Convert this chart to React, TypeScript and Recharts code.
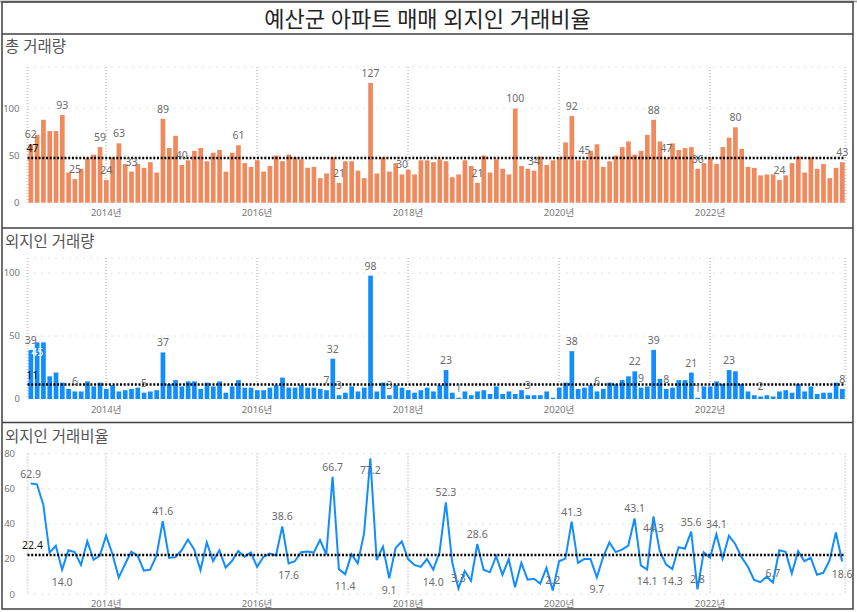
import React from "react";
import { ComposedChart, Bar, Line, XAxis, YAxis, CartesianGrid, ReferenceLine, LabelList } from "recharts";

// Monthly series, Jan 2013 .. Oct 2023
const START_YEAR = 2013;

const TOTAL = [
  62, 72, 88, 76, 76, 93, 32, 25, 36, 47, 51, 59,
  24, 48, 63, 41, 33, 41, 37, 43, 32, 89, 58, 71,
  40, 45, 55, 58, 44, 53, 56, 33, 53, 61, 42, 38,
  45, 33, 39, 50, 44, 51, 48, 46, 37, 38, 26, 31,
  48, 21, 44, 44, 34, 26, 127, 31, 48, 33, 42, 30,
  35, 30, 45, 45, 43, 46, 44, 27, 30, 45, 39, 21,
  50, 32, 46, 36, 30, 100, 39, 36, 34, 49, 40, 45,
  48, 64, 92, 45, 45, 55, 62, 38, 44, 50, 59, 65,
  51, 55, 72, 88, 65, 47, 63, 56, 58, 59, 36, 42,
  48, 41, 59, 69, 80, 57, 38, 37, 29, 30, 30, 24,
  29, 42, 49, 32, 48, 36, 41, 26, 37, 43,
];

const FOREIGN = [
  39, 45, 45, 18, 21, 13, 8, 6, 6, 14, 10, 13,
  8, 11, 6, 7, 8, 9, 5, 6, 7, 37, 12, 15,
  10, 14, 14, 8, 13, 10, 14, 5, 10, 15, 9, 9,
  7, 7, 9, 11, 17, 9, 9, 11, 9, 9, 8, 7,
  32, 3, 5, 10, 6, 9, 98, 6, 13, 3, 11, 9,
  7, 5, 7, 9, 6, 11, 23, 5, 1, 6, 3, 6,
  7, 4, 10, 4, 6, 4, 7, 3, 3, 3, 6, 1,
  9, 13, 38, 8, 9, 11, 6, 8, 13, 12, 15, 18,
  22, 9, 10, 39, 16, 8, 9, 15, 15, 21, 1, 10,
  10, 14, 12, 23, 22, 12, 6, 3, 2, 3, 2, 6,
  7, 5, 12, 6, 10, 4, 5, 5, 13, 8,
];

const RATE = [
  62.9, 62.5, 51.1, 23.7, 27.6, 14.0, 25.0, 24.0, 16.7, 30.2, 19.6, 22.0,
  33.3, 22.9, 9.5, 17.1, 24.2, 22.0, 13.5, 14.0, 21.9, 41.6, 20.7, 21.1,
  25.0, 31.1, 25.5, 13.8, 29.5, 18.9, 25.0, 15.2, 18.9, 24.6, 21.4, 23.7,
  15.6, 21.2, 23.1, 22.0, 38.6, 17.6, 18.8, 23.9, 24.3, 23.7, 30.8, 22.6,
  66.7, 14.3, 11.4, 22.7, 17.6, 34.6, 77.2, 19.4, 27.1, 9.1, 26.2, 30.0,
  20.0, 16.7, 15.6, 20.0, 14.0, 23.9, 52.3, 18.5, 3.3, 13.3, 7.7, 28.6,
  14.0, 12.5, 21.7, 11.1, 20.0, 4.0, 17.9, 8.3, 8.8, 6.1, 15.0, 2.2,
  18.8, 20.3, 41.3, 17.8, 20.0, 20.0, 9.7, 21.1, 29.5, 24.0, 25.4, 27.7,
  43.1, 16.4, 14.1, 44.3, 24.6, 17.0, 14.3, 26.8, 25.9, 35.6, 2.8, 23.8,
  20.8, 34.1, 20.3, 33.3, 28.6, 21.1, 15.8, 8.1, 6.9, 10.0, 6.7, 25.0,
  24.1, 11.9, 24.5, 18.8, 20.8, 11.1, 12.2, 19.2, 35.1, 18.6,
];

const TOTAL_AVG = 47.4;
const FOREIGN_AVG = 11.46;
const RATE_AVG = 22.4;

const YEAR_TICKS = [12, 36, 60, 84, 108];
const YEAR_LABELS = ["2014년", "2016년", "2018년", "2020년", "2022년"];

// which months carry a data label
const TOTAL_LABELED = [0, 5, 7, 11, 12, 14, 16, 21, 24, 33, 49, 54, 59, 71, 77, 80, 86, 88, 99, 101, 106, 112, 119, 129];
const FOREIGN_LABELED = [0, 7, 18, 21, 47, 48, 49, 54, 57, 66, 68, 79, 86, 90, 96, 97, 99, 101, 105, 106, 111, 116, 129];
const FOREIGN_INSIDE = [1];
const RATE_ABOVE = [0, 21, 40, 48, 66, 68, 71, 83, 86, 96, 105, 106, 109, 118];
const RATE_BELOW = [5, 41, 50, 54, 57, 64, 90, 98, 99, 102, 129];

const data = TOTAL.map((t, i) => ({
  idx: i,
  month: `${START_YEAR + Math.floor(i / 12)}-${String((i % 12) + 1).padStart(2, "0")}`,
  total: t,
  foreign: FOREIGN[i],
  rate: RATE[i],
}));

const FONT = "'Noto Sans', 'Noto Sans CJK KR', sans-serif";
const ORANGE = "#F08A5D";
const BLUE = "#118DFF";
const LABEL_GRAY = "#6b6b6b";
const W = 857;

const tickStyle = { fontSize: 9.5, fill: "#777", fontFamily: FONT };
const labelText = { fontSize: 10.5, fontFamily: FONT };

function barLabel(shown: number[], inside: number[] = []) {
  return (p: any) => {
    const { x, y, width, index, value } = p;
    const cx = Number(x) + Number(width) / 2;
    if (inside.includes(index)) {
      return (
        <text x={cx} y={Number(y) + 14} textAnchor="middle" fill="#fff" {...labelText}>
          {value}
        </text>
      );
    }
    if (!shown.includes(index)) return null;
    return (
      <text x={cx} y={Number(y) - 6} textAnchor="middle" fill={LABEL_GRAY} {...labelText}>
        {value}
      </text>
    );
  };
}

function lineLabel(p: any) {
  const { x, y, index, value } = p;
  let dy = 0;
  if (RATE_ABOVE.includes(index)) dy = -6;
  else if (RATE_BELOW.includes(index)) dy = 16;
  else return null;
  return (
    <text x={x} y={Number(y) + dy} textAnchor="middle" fill={LABEL_GRAY} {...labelText}>
      {Number(value).toFixed(1)}
    </text>
  );
}

function avgLabel(text: string) {
  return (p: any) => {
    const vb = p.viewBox || {};
    return (
      <text x={vb.x + 5} y={vb.y - 6} textAnchor="middle" fill="#111" {...labelText}>
        {text}
      </text>
    );
  };
}

function yearTick(v: number) {
  return YEAR_LABELS[YEAR_TICKS.indexOf(v)] ?? "";
}

const xAxisProps = {
  type: "number" as const,
  dataKey: "idx",
  domain: [-0.5, 129.5],
  ticks: YEAR_TICKS,
  tickFormatter: yearTick,
  tickLine: false,
  axisLine: false,
  interval: 0 as const,
  height: 15,
  tick: tickStyle,
};

function PanelTitle({ top, text }: { top: number; text: string }) {
  return (
    <div
      style={{
        position: "absolute",
        left: 5,
        top,
        fontFamily: FONT,
        fontSize: 15.5,
        lineHeight: "18px",
        color: "#555",
        whiteSpace: "nowrap",
      }}
    >
      {text}
    </div>
  );
}

export default function App() {
  return (
    <div style={{ position: "absolute", left: 0, top: 0, width: W, height: 612, background: "#fff", overflow: "hidden" }}>
      <div
        style={{
          position: "absolute",
          left: 0,
          top: 2,
          width: W - 2,
          height: 32,
          textAlign: "center",
          fontFamily: FONT,
          fontSize: 22,
          lineHeight: "32px",
          color: "#252423",
        }}
      >
        예산군 아파트 매매 외지인 거래비율
      </div>

      {/* 총 거래량 */}
      <PanelTitle top={37} text="총 거래량" />
      <div style={{ position: "absolute", left: 0, top: 34 }}>
        <ComposedChart width={W} height={194} data={data} margin={{ top: 33, right: 11.7, bottom: 10.3, left: 3.5 }}>
          <CartesianGrid vertical={false} stroke="#c8c8c8" strokeDasharray="1 6" />
          <CartesianGrid horizontal={false} stroke="#cfcfcf" strokeWidth={2} strokeDasharray="1 2" />
          <XAxis {...xAxisProps} tickMargin={1} />
          <YAxis width={24} domain={[0, 144]} ticks={[0, 50, 100]} tickLine={false} axisLine={false} tickMargin={2} tick={tickStyle} />
          <Bar dataKey="total" fill={ORANGE} barSize={4.7} isAnimationActive={false}>
            <LabelList dataKey="total" content={barLabel(TOTAL_LABELED)} />
          </Bar>
          <ReferenceLine y={TOTAL_AVG} stroke="#000" strokeWidth={2.5} strokeDasharray="2 1.7" label={avgLabel(String(Math.round(TOTAL_AVG)))} />
        </ComposedChart>
      </div>

      {/* 외지인 거래량 */}
      <PanelTitle top={232} text="외지인 거래량" />
      <div style={{ position: "absolute", left: 0, top: 228 }}>
        <ComposedChart width={W} height={194} data={data} margin={{ top: 30, right: 11.7, bottom: 8, left: 3.5 }}>
          <CartesianGrid vertical={false} stroke="#c8c8c8" strokeDasharray="1 6" />
          <CartesianGrid horizontal={false} stroke="#cfcfcf" strokeWidth={2} strokeDasharray="1 2" />
          <XAxis {...xAxisProps} tickMargin={1} />
          <YAxis width={24} domain={[0, 112]} ticks={[0, 50, 100]} tickLine={false} axisLine={false} tickMargin={1.5} tick={tickStyle} />
          <Bar dataKey="foreign" fill={BLUE} barSize={4.7} isAnimationActive={false}>
            <LabelList dataKey="foreign" content={barLabel(FOREIGN_LABELED, FOREIGN_INSIDE)} />
          </Bar>
          <ReferenceLine y={FOREIGN_AVG} stroke="#000" strokeWidth={2.5} strokeDasharray="2 1.7" label={avgLabel(String(Math.round(FOREIGN_AVG)))} />
        </ComposedChart>
      </div>

      {/* 외지인 거래비율 */}
      <PanelTitle top={427} text="외지인 거래비율" />
      <div style={{ position: "absolute", left: 0, top: 422 }}>
        <ComposedChart width={W} height={188} data={data} margin={{ top: 31.5, right: 11.7, bottom: 0.7, left: 3.5 }}>
          <CartesianGrid vertical={false} stroke="#c8c8c8" strokeDasharray="1 6" />
          <CartesianGrid horizontal={false} stroke="#cfcfcf" strokeWidth={2} strokeDasharray="1 2" />
          <XAxis {...xAxisProps} tickMargin={0} />
          <YAxis width={24} domain={[0, 80]} ticks={[0, 20, 40, 60, 80]} tickLine={false} axisLine={false} tickMargin={6.5} tick={tickStyle} />
          <Line dataKey="rate" type="linear" stroke={BLUE} strokeWidth={2} dot={false} isAnimationActive={false}>
            <LabelList dataKey="rate" content={lineLabel} />
          </Line>
          <ReferenceLine y={RATE_AVG} stroke="#000" strokeWidth={2.5} strokeDasharray="2 1.7" label={avgLabel(RATE_AVG.toFixed(1))} />
        </ComposedChart>
      </div>

      {/* frames */}
      <svg width={W} height={612} style={{ position: "absolute", left: 0, top: 0, pointerEvents: "none" }}>
        <line x1={0} y1={1.5} x2={W} y2={1.5} stroke="#a8a8a8" strokeWidth={2} />
        <rect x={2} y={2} width={851} height={607} fill="none" stroke="#404040" strokeWidth={1.5} />
        <line x1={2} y1={34} x2={853} y2={34} stroke="#404040" strokeWidth={1.5} />
        <line x1={2} y1={228} x2={853} y2={228} stroke="#404040" strokeWidth={1.5} />
        <line x1={2} y1={422.5} x2={853} y2={422.5} stroke="#404040" strokeWidth={1.5} />
      </svg>
    </div>
  );
}
